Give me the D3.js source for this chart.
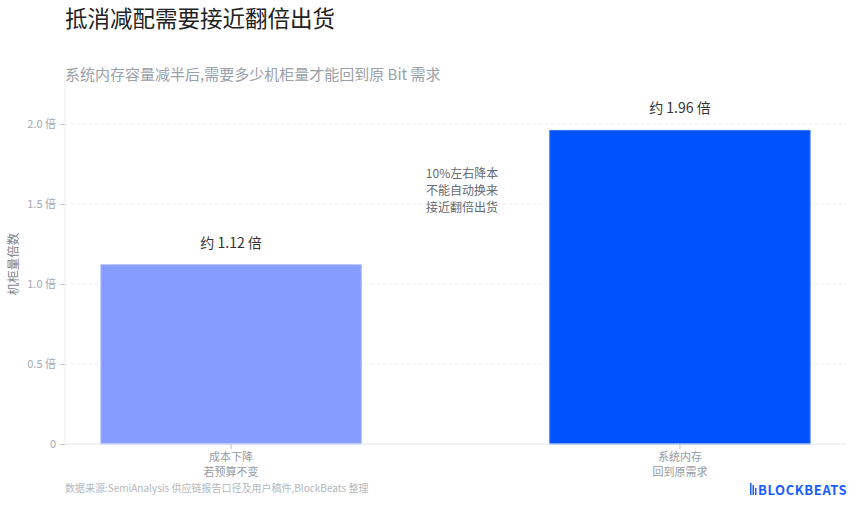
<!DOCTYPE html>
<html>
<head>
<meta charset="utf-8">
<script src="https://cdn.jsdelivr.net/npm/d3@7"></script>
<style>
  body { margin: 0; background: #fff; }
  text { font-family: "Noto Sans CJK SC", "Noto Sans", sans-serif; }
</style>
</head>
<body>
<div id="chart"></div>
<script>
// chart data
const categories = [['成本下降', '若预算不变'], ['系统内存', '回到原需求']];
const values = [1.12, 1.96];
const valueLabels = ['约 1.12 倍', '约 1.96 倍'];
const barColors = ['#869dff', '#0052ff'];
const yTicks = [0, 0.5, 1.0, 1.5, 2.0];
const yTickLabels = ['0', '0.5 倍', '1.0 倍', '1.5 倍', '2.0 倍'];
const noteLines = ['10%左右降本', '不能自动换来', '接近翻倍出货'];

const width = 860, height = 509;
const margin = { top: 80, right: 14, bottom: 65, left: 65 };

const svg = d3.select('#chart')
  .append('svg')
  .attr('width', width)
  .attr('height', height);

const x = d3.scaleBand()
  .domain(d3.range(categories.length))
  .range([margin.left, width - margin.right])
  .paddingInner(0.42)
  .paddingOuter(0.08);

const y = d3.scaleLinear()
  .domain([0, 2.275])
  .range([height - margin.bottom, margin.top]);

// title + subtitle
svg.append('text')
  .attr('x', 65).attr('y', 27)
  .attr('font-size', 22.5)
  .attr('fill', '#222')
  .text('抵消减配需要接近翻倍出货');

svg.append('text')
  .attr('x', 65).attr('y', 80)
  .attr('font-size', 15)
  .attr('fill', '#9aa0a8')
  .text('系统内存容量减半后,需要多少机柜量才能回到原 Bit 需求');

// gridlines
svg.selectAll('.grid')
  .data(yTicks.slice(1))
  .join('line')
  .attr('class', 'grid')
  .attr('x1', margin.left)
  .attr('x2', width - margin.right)
  .attr('y1', d => y(d))
  .attr('y2', d => y(d))
  .attr('stroke', '#eceef2')
  .attr('stroke-dasharray', '3,3');

// y axis
const yAxis = svg.append('g')
  .attr('transform', `translate(${margin.left},0)`)
  .call(d3.axisLeft(y).tickValues(yTicks).tickFormat((d, i) => yTickLabels[i]).tickSize(5).tickPadding(4));
yAxis.select('.domain').attr('stroke', '#eef0f3').attr('d', `M0,${margin.top - 5}V${y(0)}`);
yAxis.selectAll('.tick line').attr('stroke', '#c8ccd2');
yAxis.selectAll('.tick text')
  .attr('font-size', 11)
  .attr('fill', '#a3a8b0')
  .attr('font-family', '"Noto Sans CJK SC", sans-serif');

svg.append('text')
  .attr('transform', `translate(18,${(y(0) + margin.top) / 2 + 2}) rotate(-90)`)
  .attr('text-anchor', 'middle')
  .attr('font-size', 12.5)
  .attr('fill', '#7c828a')
  .text('机柜量倍数');

// bars
svg.selectAll('.bar')
  .data(values)
  .join('rect')
  .attr('class', 'bar')
  .attr('x', (d, i) => x(i))
  .attr('y', d => y(d))
  .attr('width', x.bandwidth())
  .attr('height', d => y(0) - y(d))
  .attr('fill', (d, i) => barColors[i])
  .attr('stroke', (d, i) => i === 0 ? '#a6b6ff' : '#3d78ff')
  .attr('stroke-width', 1);

// x axis
const xAxis = svg.append('g')
  .attr('transform', `translate(0,${y(0)})`)
  .call(d3.axisBottom(x).tickSize(5).tickFormat(''));
xAxis.select('.domain').attr('stroke', '#e6e8ec').attr('d', `M${margin.left},0H${width - margin.right}`);
xAxis.selectAll('.tick line').attr('stroke', '#b8bcc2');

const xLabels = svg.selectAll('.xlabel')
  .data(categories)
  .join('text')
  .attr('class', 'xlabel')
  .attr('x', (d, i) => x(i) + x.bandwidth() / 2)
  .attr('y', y(0) + 17)
  .attr('text-anchor', 'middle')
  .attr('font-size', 11)
  .attr('fill', '#969ba3');
xLabels.selectAll('tspan')
  .data(d => d)
  .join('tspan')
  .attr('x', function () { return this.parentNode.getAttribute('x'); })
  .attr('dy', (d, i) => i === 0 ? 0 : 15)
  .text(d => d);

// value labels
svg.selectAll('.vlabel')
  .data(values)
  .join('text')
  .attr('class', 'vlabel')
  .attr('x', (d, i) => x(i) + x.bandwidth() / 2)
  .attr('y', d => y(d) - 17)
  .attr('text-anchor', 'middle')
  .attr('font-size', 14)
  .attr('fill', '#333')
  .text((d, i) => valueLabels[i]);

// middle note
svg.append('text')
  .attr('x', 462)
  .attr('y', 178)
  .attr('text-anchor', 'middle')
  .attr('font-size', 12)
  .attr('fill', '#666b73')
  .selectAll('tspan')
  .data(noteLines)
  .join('tspan')
  .attr('x', 462)
  .attr('dy', (d, i) => i === 0 ? 0 : 17)
  .text(d => d);

// source
svg.append('text')
  .attr('x', 65).attr('y', 492)
  .attr('font-size', 10)
  .attr('fill', '#b4b8be')
  .text('数据来源:SemiAnalysis 供应链报告口径及用户稿件,BlockBeats 整理');

// logo
const logo = svg.append('g').attr('transform', 'translate(750,483)');
[[0, 0, 1.5, 12], [2.5, 2, 1.5, 10], [5, 5, 1.5, 7]].forEach(r => {
  logo.append('rect')
    .attr('x', r[0]).attr('y', r[1])
    .attr('width', r[2]).attr('height', r[3])
    .attr('fill', '#1a5cff');
});
logo.append('text')
  .attr('x', 8).attr('y', 11.5)
  .attr('font-size', 13)
  .attr('font-weight', 'bold')
  .attr('letter-spacing', 0.6)
  .attr('fill', '#1a5cff')
  .attr('font-family', 'Inter, "DejaVu Sans", sans-serif')
  .text('BLOCKBEATS');
</script>
</body>
</html>
